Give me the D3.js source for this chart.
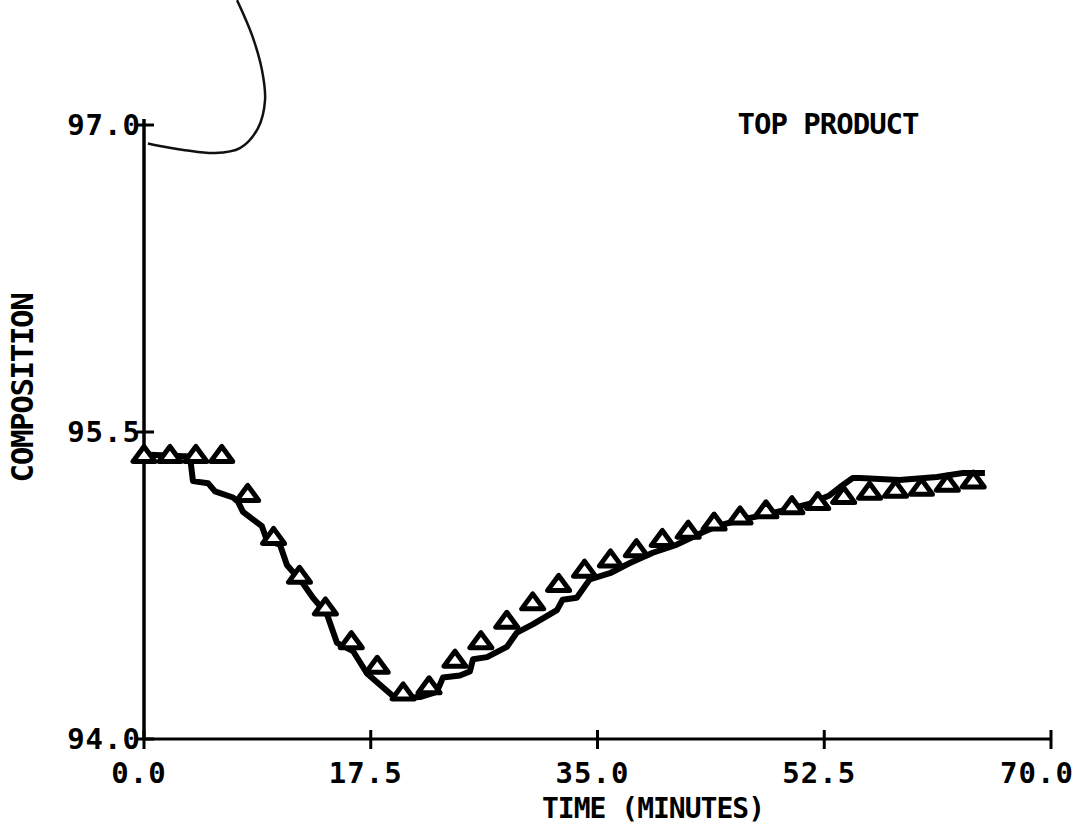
<!DOCTYPE html>
<html>
<head>
<meta charset="utf-8">
<script src="https://cdn.jsdelivr.net/npm/d3@7"></script>
<style>
  body { margin: 0; background: #fff; }
  text { font-family: "DejaVu Sans Mono", monospace; font-weight: bold; fill: #000; }
</style>
</head>
<body>
<div id="chart"></div>
<script>
// Data
const xTicks = [0, 17.5, 35, 52.5, 70];
const yTicks = [94.0, 95.5, 97.0];

// measured composition (triangles), every 2 minutes
const markerTime = [0, 2, 4, 6, 8, 10, 12, 14, 16, 18, 20, 22, 24, 26, 28, 30, 32,
    34, 36, 38, 40, 42, 44, 46, 48, 50, 52, 54, 56, 58, 60, 62, 64];
const markerComp = [95.39, 95.39, 95.39, 95.39, 95.20, 94.99, 94.80, 94.645, 94.48, 94.36, 94.23, 94.26, 94.39,
    94.48, 94.58, 94.67, 94.76, 94.83, 94.88, 94.93, 94.98, 95.02, 95.06, 95.09, 95.12,
    95.14, 95.16, 95.19, 95.21, 95.22, 95.23, 95.25, 95.265];

// simulated response (solid line)
const lineTime = [0, 3.55, 3.78, 4.94, 5.48, 6.87, 7.25, 7.64, 9.1, 9.49, 10.49, 11.03, 12.27, 13.04,
    14.12, 14.89, 16.13, 17.21, 19.21, 19.98, 21.3, 22.6, 23.07, 24.38, 25.15, 25.39, 26.47,
    28.0, 28.78, 30.0, 31.87, 32.3, 33.4, 34.4, 35.96, 37.5, 39.27, 41.13, 43.13, 44.2, 46.0,
    47.5, 49.6, 51.4, 52.9, 53.7, 54.7, 55.25, 58.3, 61.2, 63.2, 64.9];
const lineComp = [95.39, 95.38, 95.26, 95.25, 95.21, 95.18, 95.16, 95.11, 95.04, 94.97, 94.95, 94.85,
    94.76, 94.69, 94.61, 94.47, 94.43, 94.32, 94.21, 94.20, 94.205, 94.23, 94.30, 94.31, 94.33,
    94.39, 94.40, 94.45, 94.52, 94.56, 94.63, 94.68, 94.69, 94.78, 94.81, 94.86, 94.91, 94.95,
    95.01, 95.04, 95.07, 95.09, 95.12, 95.15, 95.19, 95.23, 95.275, 95.275, 95.265, 95.28, 95.30, 95.30];

// pencil scribble near the top of the sheet
const scribbleTime = [7.18, 8.33, 9.1, 9.34, 8.8, 7.4, 5.48, 3.16, 1.23, 0.3];
const scribbleComp = [97.61, 97.44, 97.27, 97.12, 96.985, 96.887, 96.863, 96.877, 96.897, 96.91];

const width = 1084, height = 831;
const margin = { top: 125, right: 33, bottom: 92, left: 144 };

const svg = d3.select("#chart").append("svg")
    .attr("width", width)
    .attr("height", height);

const x = d3.scaleLinear().domain([0, 70]).range([margin.left, width - margin.right]);
const y = d3.scaleLinear().domain([94, 97]).range([height - margin.bottom, margin.top]);

// axes lines
svg.append("line")
    .attr("x1", x(0)).attr("x2", x(70))
    .attr("y1", y(94)).attr("y2", y(94))
    .attr("stroke", "#000").attr("stroke-width", 3);
svg.append("line")
    .attr("x1", x(0)).attr("x2", x(0))
    .attr("y1", y(94)).attr("y2", y(97) - 6)
    .attr("stroke", "#000").attr("stroke-width", 3.5);

// "+" style ticks
svg.selectAll(".xtick").data(xTicks).enter().append("line")
    .attr("x1", d => x(d)).attr("x2", d => x(d))
    .attr("y1", y(94) - 9).attr("y2", y(94) + 10)
    .attr("stroke", "#000").attr("stroke-width", 3);
svg.selectAll(".ytick").data(yTicks).enter().append("line")
    .attr("x1", x(0) - 7).attr("x2", x(0) + 10)
    .attr("y1", d => y(d)).attr("y2", d => y(d))
    .attr("stroke", "#000").attr("stroke-width", 3);

// tick labels
svg.selectAll(".xlab").data(xTicks).enter().append("text")
    .attr("x", d => x(d) - (d === 70 ? 14 : 5))
    .attr("y", y(94) + 44)
    .attr("text-anchor", "middle")
    .style("font-size", "29px")
    .style("letter-spacing", "1px")
    .text(d => d.toFixed(1));
svg.selectAll(".ylab").data(yTicks).enter().append("text")
    .attr("x", x(0) - 3)
    .attr("y", d => y(d) + 10)
    .attr("text-anchor", "end")
    .style("font-size", "29px")
    .style("letter-spacing", "1px")
    .text(d => d.toFixed(1));

// axis titles
svg.append("text")
    .attr("x", 653).attr("y", 818)
    .attr("text-anchor", "middle")
    .style("font-size", "28px")
    .style("letter-spacing", "-1px")
    .text("TIME (MINUTES)");
svg.append("text")
    .attr("transform", "translate(33,388) rotate(-90)")
    .attr("text-anchor", "middle")
    .style("font-size", "31px")
    .style("letter-spacing", "-1.5px")
    .text("COMPOSITION");
svg.append("text")
    .attr("x", 828).attr("y", 134)
    .attr("text-anchor", "middle")
    .style("font-size", "29px")
    .style("letter-spacing", "-1px")
    .text("TOP PRODUCT");

// scribble
svg.append("path")
    .datum(d3.zip(scribbleTime, scribbleComp))
    .attr("fill", "none")
    .attr("stroke", "#111")
    .attr("stroke-width", 2.5)
    .attr("d", d3.line().x(d => x(d[0])).y(d => y(d[1])).curve(d3.curveCatmullRom));

// simulated line
svg.append("path")
    .datum(d3.zip(lineTime, lineComp))
    .attr("fill", "none")
    .attr("stroke", "#000")
    .attr("stroke-width", 6)
    .attr("stroke-linejoin", "round")
    .attr("d", d3.line().x(d => x(d[0])).y(d => y(d[1])));

// triangle markers
const tri = "M-11,7 L11,7 L0,-8 Z";
svg.selectAll(".marker").data(d3.zip(markerTime, markerComp)).enter().append("path")
    .attr("transform", d => `translate(${x(d[0])},${y(d[1])})`)
    .attr("d", tri)
    .attr("fill", "#fff")
    .attr("stroke", "#000")
    .attr("stroke-width", 5)
    .attr("stroke-linejoin", "round");
</script>
</body>
</html>
